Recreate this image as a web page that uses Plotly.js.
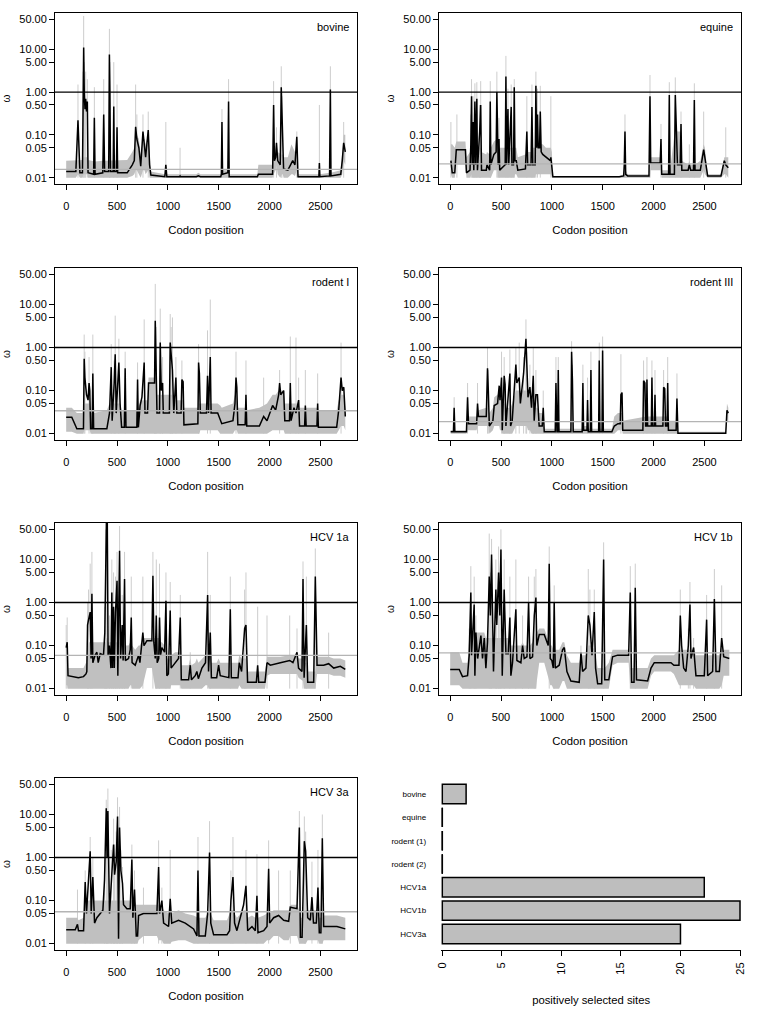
<!DOCTYPE html>
<html>
<head>
<meta charset="utf-8">
<script src="https://cdn.plot.ly/plotly-3.0.1.min.js"></script>
<style>html,body{margin:0;padding:0;background:#fff}#chart{width:768px;height:1019px}</style>
</head>
<body>
<div id="chart"></div>
<script>
// Rows: [codon position, omega, band lower, band upper]
// Spikes: [codon position, upper credible limit] for single-site excursions of the interval
const bovine = [
[0,0.014,0.010,0.025],[95,0.014,0.010,0.026],[116,0.22,0.012,0.026],[135,0.013,0.010,0.026],[160,0.013,0.010,0.026],[166,0.5,0.012,0.03],[172,11,0.012,0.03],[178,0.9,0.012,0.03],[185,0.4,0.012,0.03],[192,0.7,0.012,0.03],[200,0.35,0.012,0.03],[208,0.6,0.012,0.03],[215,0.013,0.010,0.026],[270,0.012,0.010,0.024],[277,0.25,0.010,0.024],[284,0.012,0.010,0.024],[360,0.013,0.010,0.025],[369,0.3,0.010,0.025],[378,0.014,0.010,0.026],[418,0.014,0.010,0.026],[425,7.5,0.010,0.026],[430,1.0,0.010,0.026],[436,0.014,0.010,0.026],[462,0.014,0.010,0.026],[468,0.46,0.010,0.026],[474,0.014,0.010,0.026],[494,0.014,0.010,0.026],[500,0.15,0.010,0.026],[506,0.013,0.010,0.026],[600,0.013,0.010,0.026],[650,0.02,0.011,0.04],[670,0.025,0.012,0.05],[683,0.155,0.015,0.1],[695,0.08,0.015,0.1],[715,0.05,0.012,0.08],[733,0.0185,0.010,0.035],[755,0.12,0.015,0.08],[770,0.05,0.015,0.08],[781,0.03,0.012,0.06],[807,0.13,0.015,0.1],[820,0.02,0.010,0.04],[833,0.0115,0.010,0.014],[970,0.0105,0.010,0.012],[980,0.02,0.010,0.012],[990,0.0105,0.010,0.012],[1115,0.0105,0.010,0.012],[1120,0.011,0.010,0.012],[1125,0.0105,0.010,0.012],[1280,0.0105,0.010,0.012],[1300,0.011,0.010,0.013],[1320,0.0105,0.010,0.012],[1520,0.0105,0.010,0.012],[1526,0.012,0.010,0.015],[1532,0.2,0.010,0.015],[1538,0.012,0.010,0.015],[1590,0.013,0.010,0.015],[1597,0.6,0.010,0.015],[1603,0.0105,0.010,0.012],[1880,0.0105,0.010,0.012],[1890,0.012,0.010,0.02],[2030,0.012,0.010,0.02],[2040,0.5,0.012,0.025],[2048,0.025,0.013,0.04],[2060,0.03,0.015,0.05],[2068,0.065,0.02,0.06],[2080,0.025,0.012,0.04],[2105,0.02,0.010,0.035],[2115,1.3,0.012,0.035],[2122,0.25,0.012,0.035],[2130,0.15,0.012,0.035],[2138,0.016,0.010,0.03],[2180,0.015,0.010,0.03],[2215,0.022,0.012,0.06],[2228,0.025,0.012,0.05],[2250,0.02,0.011,0.04],[2268,0.09,0.015,0.05],[2280,0.0105,0.010,0.012],[2485,0.0105,0.010,0.012],[2490,0.022,0.010,0.012],[2495,0.0105,0.010,0.012],[2590,0.011,0.010,0.013],[2598,1.15,0.010,0.013],[2604,0.011,0.010,0.013],[2700,0.012,0.010,0.015],[2715,0.025,0.012,0.05],[2729,0.065,0.025,0.1],[2745,0.04,0.02,0.1]
];
const bovineSpikes = [[116,1.5],[166,3],[172,60],[178,5],[185,2],[192,3],[208,2],[277,1.3],[369,2],[425,30],[430,5],[468,5],[500,1.5],[683,1.5],[695,0.3],[755,0.3],[807,0.35],[980,0.2],[1120,0.05],[1532,0.4],[1597,2],[2040,1.8],[2068,0.15],[2115,4],[2122,0.8],[2268,0.12],[2490,0.5],[2598,4],[2729,0.2]];

const equine = [
[7,0.025,0.012,0.06],[20,0.013,0.010,0.06],[45,0.013,0.010,0.05],[60,0.045,0.02,0.07],[150,0.045,0.02,0.07],[160,0.013,0.010,0.03],[195,0.015,0.010,0.04],[203,0.06,0.012,0.05],[210,0.8,0.012,0.05],[216,0.02,0.010,0.05],[225,0.2,0.010,0.05],[232,0.015,0.010,0.04],[243,0.6,0.010,0.05],[250,0.02,0.010,0.05],[262,0.7,0.010,0.05],[268,0.015,0.010,0.04],[290,0.12,0.010,0.05],[300,0.5,0.010,0.05],[308,0.015,0.010,0.04],[355,0.015,0.010,0.035],[362,0.02,0.010,0.04],[388,0.015,0.010,0.035],[394,0.6,0.010,0.05],[400,0.02,0.010,0.05],[430,0.035,0.015,0.07],[452,0.04,0.015,0.08],[459,1.0,0.015,0.08],[465,0.08,0.015,0.08],[472,0.02,0.010,0.05],[480,0.08,0.010,0.05],[487,0.015,0.010,0.05],[541,0.02,0.010,0.05],[548,2.3,0.010,0.05],[555,0.02,0.010,0.05],[568,0.4,0.010,0.05],[576,0.02,0.010,0.05],[600,0.45,0.010,0.05],[607,0.02,0.010,0.05],[623,0.02,0.010,0.05],[630,1.3,0.010,0.05],[637,0.025,0.012,0.05],[650,0.025,0.012,0.05],[665,0.015,0.010,0.03],[740,0.016,0.010,0.035],[754,0.12,0.010,0.04],[762,0.02,0.010,0.04],[795,0.02,0.010,0.04],[804,0.45,0.010,0.05],[812,0.02,0.010,0.05],[836,0.02,0.010,0.05],[843,1.4,0.012,0.06],[850,0.05,0.012,0.06],[859,0.3,0.012,0.06],[866,0.05,0.012,0.06],[879,0.05,0.012,0.06],[886,0.35,0.012,0.06],[895,0.04,0.012,0.06],[910,0.035,0.012,0.06],[941,0.03,0.012,0.05],[985,0.025,0.012,0.05],[990,0.03,0.012,0.05],[1000,0.02,0.010,0.04],[1010,0.0105,0.010,0.011],[1663,0.0105,0.010,0.011],[1706,0.011,0.010,0.012],[1712,0.02,0.010,0.015],[1719,0.12,0.010,0.015],[1726,0.012,0.010,0.015],[1745,0.011,0.010,0.012],[1955,0.011,0.010,0.012],[1965,0.8,0.010,0.012],[1972,0.022,0.015,0.03],[2065,0.022,0.015,0.03],[2073,0.08,0.015,0.03],[2080,0.012,0.010,0.015],[2148,0.012,0.010,0.015],[2155,0.85,0.010,0.015],[2162,0.012,0.010,0.015],[2205,0.012,0.010,0.1],[2214,0.85,0.010,0.15],[2222,0.1,0.010,0.15],[2235,0.02,0.010,0.12],[2262,0.02,0.010,0.12],[2270,0.18,0.010,0.12],[2278,0.015,0.010,0.025],[2340,0.015,0.010,0.02],[2352,0.02,0.010,0.025],[2365,0.015,0.010,0.02],[2393,0.015,0.010,0.02],[2401,0.65,0.010,0.02],[2408,0.015,0.010,0.02],[2460,0.015,0.010,0.025],[2493,0.045,0.015,0.06],[2505,0.03,0.012,0.05],[2532,0.011,0.010,0.012],[2663,0.011,0.010,0.012],[2696,0.025,0.012,0.03],[2710,0.02,0.012,0.03],[2735,0.017,0.010,0.03]
];
const equineSpikes = [[7,0.2],[66,0.3],[203,0.3],[210,2],[225,0.8],[243,1.6],[262,1.7],[290,0.5],[300,1.8],[394,1.8],[459,3],[465,0.3],[480,0.25],[548,7],[568,1.2],[600,1.5],[630,2],[754,0.8],[804,1.5],[843,3],[859,1.2],[886,1.4],[990,0.8],[1719,0.3],[1965,2.5],[2073,0.18],[2155,1.7],[2214,2.2],[2270,0.35],[2352,0.06],[2401,1.6],[2493,0.35],[2710,0.15]];

const rodentI = [
[0,0.024,0.011,0.04],[55,0.024,0.011,0.04],[105,0.013,0.010,0.03],[160,0.013,0.010,0.03],[170,0.013,0.010,0.04],[177,0.55,0.012,0.05],[184,0.2,0.012,0.05],[200,0.08,0.012,0.05],[215,0.06,0.012,0.05],[225,0.15,0.012,0.05],[232,0.1,0.012,0.05],[240,0.013,0.010,0.03],[255,0.013,0.010,0.03],[262,0.25,0.010,0.03],[270,0.013,0.010,0.03],[400,0.013,0.010,0.035],[426,0.03,0.010,0.05],[443,0.35,0.010,0.05],[452,0.02,0.010,0.05],[472,0.15,0.010,0.05],[482,0.7,0.010,0.05],[492,0.03,0.010,0.05],[518,0.45,0.010,0.05],[530,0.05,0.010,0.05],[545,0.014,0.010,0.035],[572,0.014,0.010,0.035],[580,0.33,0.010,0.035],[588,0.014,0.010,0.035],[695,0.014,0.010,0.035],[702,0.18,0.010,0.04],[710,0.014,0.010,0.04],[727,0.045,0.010,0.06],[745,0.07,0.010,0.06],[767,0.45,0.010,0.06],[775,0.03,0.010,0.06],[800,0.03,0.010,0.06],[810,0.15,0.010,0.2],[860,0.15,0.010,0.2],[869,0.15,0.010,0.2],[876,4.2,0.010,0.2],[885,0.6,0.010,0.1],[893,0.03,0.010,0.08],[918,0.03,0.010,0.08],[925,1.3,0.010,0.08],[935,0.1,0.010,0.08],[948,0.15,0.010,0.08],[955,0.03,0.010,0.08],[1015,0.03,0.010,0.08],[1023,1.3,0.010,0.08],[1032,0.6,0.010,0.08],[1045,0.3,0.010,0.08],[1058,0.03,0.010,0.06],[1079,0.2,0.010,0.06],[1088,0.03,0.010,0.06],[1130,0.03,0.010,0.06],[1138,0.18,0.010,0.06],[1150,0.16,0.010,0.06],[1158,0.016,0.010,0.04],[1295,0.017,0.010,0.04],[1302,0.45,0.010,0.05],[1310,0.25,0.010,0.05],[1319,0.03,0.012,0.05],[1380,0.03,0.012,0.05],[1390,0.22,0.012,0.05],[1400,0.03,0.012,0.05],[1417,0.6,0.012,0.05],[1425,0.03,0.012,0.05],[1490,0.03,0.012,0.05],[1515,0.02,0.010,0.045],[1530,0.017,0.010,0.04],[1640,0.02,0.010,0.05],[1660,0.05,0.012,0.08],[1670,0.2,0.012,0.08],[1678,0.12,0.012,0.08],[1688,0.016,0.010,0.04],[1760,0.016,0.010,0.04],[1768,0.08,0.010,0.04],[1776,0.015,0.010,0.035],[1900,0.015,0.010,0.04],[1942,0.025,0.010,0.045],[1975,0.02,0.010,0.05],[2030,0.045,0.012,0.08],[2060,0.035,0.012,0.08],[2090,0.08,0.012,0.1],[2099,0.15,0.012,0.1],[2110,0.08,0.012,0.1],[2139,0.1,0.012,0.1],[2150,0.02,0.010,0.05],[2196,0.02,0.010,0.05],[2204,0.15,0.010,0.05],[2212,0.02,0.010,0.05],[2240,0.04,0.010,0.05],[2260,0.03,0.010,0.05],[2286,0.06,0.010,0.05],[2295,0.015,0.010,0.04],[2345,0.015,0.010,0.04],[2352,0.045,0.010,0.04],[2360,0.015,0.010,0.04],[2466,0.015,0.010,0.04],[2473,0.05,0.010,0.04],[2480,0.014,0.010,0.035],[2660,0.014,0.010,0.035],[2680,0.035,0.012,0.06],[2703,0.2,0.015,0.08],[2715,0.1,0.015,0.08],[2730,0.12,0.015,0.08],[2745,0.025,0.012,0.04]
];
const rodentISpikes = [[177,2],[184,0.8],[225,0.6],[262,2],[443,1.2],[472,0.5],[482,5.5],[518,1.6],[580,0.8],[702,0.45],[767,4.5],[869,1],[876,30],[885,3],[925,8],[948,0.6],[1023,6],[1032,3],[1045,5],[1079,0.6],[1138,0.5],[1302,1.2],[1390,2.5],[1417,13],[1670,0.8],[1768,0.5],[1942,0.2],[2099,0.3],[2204,1.8],[2260,1.7],[2286,0.2],[2352,0.3],[2473,0.25],[2703,1.3]];

const rodentIII = [
[5,0.011,0.010,0.012],[32,0.011,0.010,0.012],[39,0.04,0.010,0.012],[46,0.011,0.010,0.012],[160,0.011,0.010,0.012],[171,0.07,0.012,0.025],[180,0.017,0.012,0.025],[260,0.017,0.012,0.025],[269,0.05,0.015,0.035],[278,0.025,0.015,0.035],[355,0.025,0.015,0.04],[367,0.33,0.015,0.04],[375,0.1,0.015,0.04],[385,0.015,0.010,0.03],[420,0.02,0.012,0.04],[433,0.045,0.015,0.07],[466,0.05,0.015,0.08],[482,0.13,0.015,0.1],[490,0.06,0.012,0.08],[505,0.2,0.012,0.06],[512,0.012,0.010,0.05],[531,0.22,0.010,0.05],[540,0.14,0.010,0.05],[548,0.015,0.010,0.04],[587,0.25,0.010,0.04],[594,0.015,0.010,0.04],[610,0.02,0.010,0.05],[646,0.4,0.015,0.1],[655,0.15,0.015,0.1],[679,0.2,0.015,0.1],[690,0.05,0.015,0.1],[722,0.25,0.015,0.1],[745,1.6,0.015,0.1],[752,0.3,0.015,0.1],[765,0.07,0.012,0.08],[784,0.12,0.012,0.08],[800,0.04,0.010,0.06],[817,0.22,0.010,0.06],[826,0.02,0.010,0.04],[843,0.08,0.010,0.04],[858,0.08,0.010,0.04],[875,0.015,0.010,0.03],[905,0.015,0.010,0.03],[915,0.04,0.010,0.02],[925,0.011,0.010,0.013],[1033,0.011,0.010,0.013],[1040,0.15,0.010,0.013],[1050,0.011,0.010,0.013],[1057,0.011,0.010,0.013],[1063,0.3,0.010,0.013],[1070,0.011,0.010,0.013],[1187,0.011,0.010,0.013],[1194,0.8,0.010,0.013],[1202,0.18,0.010,0.013],[1210,0.011,0.010,0.013],[1298,0.011,0.010,0.013],[1305,0.15,0.010,0.013],[1312,0.012,0.010,0.015],[1345,0.012,0.010,0.015],[1351,0.06,0.010,0.015],[1358,0.011,0.010,0.013],[1378,0.011,0.010,0.013],[1384,0.3,0.010,0.013],[1391,0.011,0.010,0.013],[1460,0.011,0.010,0.013],[1466,0.5,0.010,0.013],[1473,0.011,0.010,0.013],[1493,0.011,0.010,0.013],[1499,0.85,0.010,0.013],[1506,0.011,0.010,0.013],[1590,0.011,0.010,0.013],[1614,0.015,0.010,0.025],[1650,0.017,0.012,0.03],[1672,0.017,0.012,0.03],[1679,0.08,0.012,0.03],[1690,0.09,0.012,0.03],[1697,0.012,0.010,0.02],[1895,0.012,0.010,0.025],[1902,0.17,0.010,0.025],[1915,0.15,0.010,0.025],[1922,0.015,0.010,0.025],[1930,0.015,0.010,0.025],[1935,0.18,0.010,0.025],[1942,0.015,0.010,0.025],[1978,0.015,0.010,0.025],[1984,0.2,0.010,0.025],[1991,0.015,0.010,0.025],[2008,0.015,0.010,0.025],[2014,0.08,0.010,0.025],[2020,0.015,0.010,0.025],[2092,0.015,0.010,0.025],[2099,0.12,0.010,0.025],[2110,0.11,0.010,0.025],[2118,0.015,0.010,0.025],[2133,0.015,0.010,0.025],[2139,0.15,0.010,0.025],[2146,0.012,0.010,0.02],[2222,0.012,0.010,0.02],[2230,0.065,0.010,0.02],[2240,0.0102,0.010,0.011],[2710,0.0102,0.010,0.011],[2722,0.035,0.02,0.05],[2735,0.03,0.02,0.04]
];
const rodentIIISpikes = [[39,0.07],[171,0.15],[269,0.15],[367,1],[375,0.3],[505,0.8],[531,0.6],[587,0.9],[646,1],[679,1.3],[722,0.6],[745,4.5],[752,0.8],[784,0.4],[817,1],[843,0.3],[915,0.1],[1040,0.6],[1063,0.6],[1194,1.4],[1202,0.4],[1305,0.4],[1351,0.2],[1384,0.8],[1466,1.3],[1499,1.8],[1679,0.7],[1902,0.5],[1935,0.6],[1984,0.5],[2014,0.3],[2099,0.3],[2139,0.6],[2230,0.25]];

const hcv1a = [
[0,0.09,0.012,0.12],[10,0.12,0.012,0.12],[18,0.02,0.010,0.03],[60,0.019,0.010,0.03],[120,0.018,0.010,0.03],[170,0.019,0.010,0.03],[195,0.022,0.010,0.04],[203,0.025,0.010,0.06],[210,0.3,0.010,0.1],[220,0.4,0.010,0.12],[236,0.6,0.010,0.12],[245,0.05,0.010,0.12],[253,1.6,0.010,0.12],[262,0.04,0.010,0.12],[285,0.06,0.010,0.12],[302,0.07,0.010,0.12],[315,0.04,0.010,0.12],[335,0.065,0.010,0.12],[367,0.06,0.010,0.12],[380,0.2,0.010,0.12],[390,8,0.010,0.12],[396,90,0.010,0.15],[404,90,0.010,0.15],[412,0.06,0.010,0.12],[425,0.1,0.010,0.12],[440,0.03,0.010,0.12],[449,1.7,0.010,0.12],[456,0.03,0.010,0.12],[466,0.8,0.010,0.12],[473,0.03,0.010,0.12],[485,0.6,0.010,0.12],[500,3.2,0.010,0.12],[508,0.02,0.010,0.12],[525,16,0.010,0.12],[535,0.05,0.010,0.12],[551,0.3,0.010,0.12],[560,0.045,0.010,0.12],[574,3.5,0.010,0.12],[582,0.045,0.010,0.1],[613,0.05,0.010,0.1],[630,0.08,0.012,0.12],[640,0.45,0.012,0.12],[648,0.04,0.010,0.1],[679,0.035,0.010,0.08],[712,0.06,0.010,0.1],[725,0.04,0.010,0.1],[754,0.2,0.012,0.15],[765,0.1,0.015,0.15],[794,0.13,0.03,0.15],[843,0.13,0.03,0.15],[853,4.2,0.02,0.15],[862,0.12,0.015,0.15],[876,0.05,0.010,0.15],[886,0.5,0.010,0.15],[895,0.04,0.010,0.15],[910,0.05,0.010,0.15],[918,0.45,0.010,0.15],[928,0.06,0.010,0.12],[941,0.09,0.010,0.12],[968,0.07,0.010,0.1],[981,1.1,0.010,0.08],[990,0.02,0.010,0.05],[1005,0.022,0.010,0.05],[1023,0.65,0.010,0.05],[1032,0.03,0.012,0.06],[1072,0.04,0.012,0.07],[1105,0.05,0.012,0.07],[1122,0.45,0.012,0.07],[1132,0.016,0.010,0.035],[1204,0.016,0.010,0.035],[1220,0.035,0.010,0.05],[1232,0.016,0.010,0.035],[1269,0.02,0.010,0.04],[1285,0.025,0.010,0.05],[1300,0.017,0.010,0.04],[1335,0.03,0.010,0.05],[1370,0.04,0.012,0.06],[1391,1.5,0.012,0.06],[1400,0.025,0.010,0.05],[1417,0.2,0.010,0.05],[1428,0.018,0.010,0.04],[1480,0.018,0.010,0.04],[1499,0.035,0.010,0.05],[1515,0.02,0.010,0.04],[1600,0.018,0.010,0.04],[1614,0.7,0.010,0.04],[1624,0.018,0.010,0.04],[1690,0.018,0.010,0.04],[1702,0.04,0.012,0.06],[1725,0.025,0.010,0.05],[1755,0.25,0.010,0.05],[1768,0.3,0.010,0.05],[1784,0.014,0.010,0.025],[1870,0.014,0.010,0.025],[1883,0.035,0.010,0.025],[1893,0.014,0.010,0.025],[1955,0.014,0.010,0.025],[1975,0.04,0.02,0.055],[2007,0.035,0.022,0.055],[2106,0.04,0.022,0.055],[2198,0.045,0.022,0.06],[2230,0.04,0.022,0.06],[2270,0.07,0.022,0.06],[2285,0.03,0.018,0.05],[2319,0.025,0.015,0.05],[2329,3.5,0.015,0.05],[2340,0.018,0.010,0.04],[2362,0.3,0.010,0.04],[2375,0.014,0.010,0.025],[2434,0.014,0.010,0.025],[2450,4,0.010,0.025],[2467,0.035,0.022,0.055],[2532,0.035,0.022,0.055],[2581,0.038,0.022,0.055],[2631,0.03,0.02,0.05],[2696,0.033,0.02,0.05],[2745,0.028,0.018,0.045]
];
const hcv1aSpikes = [[0,0.3],[10,0.45],[210,1],[220,2],[236,8],[253,15],[380,0.8],[390,50],[400,100],[425,0.5],[449,10],[466,5],[485,4],[500,15],[525,60],[551,1.5],[574,15],[640,4],[754,4],[853,15],[886,10],[918,8],[981,5],[1023,3],[1122,1.5],[1220,0.07],[1391,15],[1417,1.5],[1614,4],[1755,2],[1768,5],[1883,0.8],[1975,0.5],[2198,0.5],[2270,0.25],[2329,9],[2362,4],[2450,18],[2581,0.2]];

const hcv1b = [
[0,0.028,0.012,0.07],[89,0.028,0.012,0.07],[121,0.019,0.010,0.04],[171,0.02,0.010,0.04],[187,0.06,0.010,0.15],[203,1.7,0.010,0.2],[210,0.06,0.010,0.2],[236,0.9,0.010,0.2],[243,0.02,0.010,0.2],[253,0.2,0.010,0.2],[270,0.05,0.010,0.2],[302,0.17,0.010,0.2],[318,0.05,0.010,0.2],[335,0.15,0.010,0.2],[351,0.03,0.010,0.15],[367,0.12,0.010,0.15],[384,4,0.010,0.15],[395,0.5,0.010,0.15],[407,13,0.010,0.15],[426,0.025,0.010,0.15],[449,2,0.010,0.15],[458,0.3,0.010,0.15],[476,5,0.010,0.15],[488,0.5,0.010,0.15],[499,17,0.010,0.15],[512,0.02,0.010,0.15],[531,2,0.010,0.15],[548,0.065,0.010,0.15],[571,0.065,0.010,0.15],[587,0.45,0.010,0.15],[597,0.02,0.010,0.1],[613,0.04,0.010,0.1],[646,0.7,0.010,0.1],[656,0.045,0.010,0.1],[695,0.04,0.010,0.1],[712,0.1,0.010,0.12],[728,0.05,0.010,0.1],[755,0.055,0.010,0.1],[771,1.0,0.010,0.1],[784,0.05,0.010,0.1],[810,0.055,0.010,0.12],[827,0.5,0.010,0.15],[843,1.3,0.010,0.2],[852,0.1,0.015,0.2],[876,0.18,0.04,0.25],[925,0.18,0.04,0.25],[964,0.1,0.02,0.15],[974,8,0.015,0.12],[984,0.05,0.012,0.1],[1000,0.045,0.012,0.1],[1014,0.03,0.010,0.08],[1023,1.0,0.010,0.08],[1033,0.03,0.010,0.08],[1072,0.035,0.010,0.08],[1105,0.08,0.015,0.12],[1122,0.09,0.015,0.12],[1148,0.025,0.010,0.06],[1187,0.015,0.010,0.04],[1269,0.014,0.010,0.04],[1286,0.07,0.010,0.06],[1302,0.025,0.010,0.06],[1335,0.03,0.010,0.06],[1358,0.5,0.010,0.1],[1374,0.3,0.010,0.1],[1395,0.06,0.010,0.1],[1417,0.6,0.010,0.08],[1430,0.03,0.010,0.06],[1450,0.013,0.010,0.03],[1490,0.013,0.010,0.03],[1509,10,0.010,0.03],[1520,0.016,0.010,0.03],[1560,0.016,0.010,0.04],[1597,0.055,0.035,0.08],[1647,0.06,0.04,0.08],[1755,0.06,0.04,0.08],[1771,1.7,0.010,0.03],[1784,0.014,0.010,0.03],[1808,0.014,0.010,0.03],[1820,2.2,0.010,0.03],[1832,0.016,0.010,0.03],[1942,0.015,0.010,0.03],[1975,0.03,0.02,0.05],[2007,0.04,0.025,0.06],[2171,0.04,0.025,0.06],[2200,0.035,0.022,0.06],[2250,0.035,0.012,0.08],[2263,0.5,0.012,0.08],[2276,0.1,0.012,0.08],[2296,0.03,0.012,0.08],[2319,0.025,0.012,0.08],[2342,0.1,0.012,0.08],[2358,0.9,0.012,0.08],[2368,0.05,0.012,0.08],[2394,0.09,0.012,0.08],[2417,0.02,0.010,0.06],[2499,0.02,0.010,0.06],[2522,0.4,0.010,0.06],[2532,0.02,0.010,0.06],[2581,0.025,0.010,0.06],[2598,1.2,0.010,0.06],[2614,0.025,0.010,0.06],[2647,0.025,0.010,0.06],[2670,0.15,0.012,0.08],[2690,0.055,0.02,0.08],[2745,0.05,0.02,0.08]
];
const hcv1bSpikes = [[187,0.25],[203,7],[236,4],[253,0.5],[384,40],[395,5],[407,30],[449,10],[458,2],[476,20],[488,5],[499,50],[531,10],[587,4],[646,10],[712,0.5],[771,4],[827,4],[843,6],[974,20],[1023,2.5],[1286,0.1],[1358,6],[1374,2],[1417,2],[1509,25],[1771,7],[1820,8],[2263,2],[2342,0.25],[2358,3],[2394,0.15],[2522,1.5],[2598,6],[2670,2.5]];

const hcv3a = [
[0,0.021,0.010,0.04],[89,0.021,0.010,0.04],[111,0.028,0.010,0.04],[121,0.02,0.010,0.035],[171,0.02,0.010,0.04],[187,0.27,0.010,0.08],[200,0.05,0.010,0.1],[236,1.4,0.010,0.1],[246,0.05,0.010,0.1],[262,0.35,0.010,0.1],[279,0.03,0.010,0.1],[302,0.04,0.010,0.1],[335,0.05,0.010,0.1],[361,0.06,0.010,0.1],[377,0.3,0.010,0.1],[394,14,0.010,0.1],[402,1,0.010,0.1],[410,12,0.010,0.1],[426,0.05,0.010,0.1],[443,0.3,0.010,0.1],[466,2,0.010,0.1],[476,0.4,0.010,0.1],[492,0.8,0.010,0.1],[505,9,0.010,0.1],[515,0.013,0.010,0.1],[525,5,0.010,0.1],[538,0.5,0.010,0.1],[554,0.25,0.010,0.1],[564,0.08,0.010,0.1],[597,0.065,0.010,0.1],[630,0.065,0.010,0.1],[646,0.9,0.010,0.1],[656,0.04,0.010,0.1],[672,0.18,0.010,0.1],[689,0.015,0.010,0.08],[702,0.015,0.010,0.08],[712,0.045,0.012,0.08],[760,0.05,0.015,0.08],[892,0.05,0.015,0.08],[909,0.6,0.012,0.08],[918,0.05,0.012,0.08],[941,0.1,0.012,0.08],[958,0.03,0.010,0.06],[1007,0.025,0.010,0.05],[1023,0.11,0.010,0.05],[1038,0.03,0.011,0.05],[1105,0.035,0.012,0.06],[1171,0.03,0.012,0.05],[1253,0.022,0.010,0.045],[1286,0.015,0.010,0.04],[1296,0.5,0.010,0.04],[1306,0.015,0.010,0.04],[1368,0.015,0.010,0.04],[1391,0.05,0.010,0.05],[1410,1.3,0.010,0.05],[1422,0.03,0.010,0.05],[1450,0.016,0.010,0.035],[1581,0.016,0.010,0.035],[1607,0.02,0.010,0.05],[1620,0.1,0.010,0.06],[1640,0.35,0.010,0.06],[1656,0.03,0.010,0.05],[1679,0.02,0.010,0.04],[1745,0.08,0.010,0.06],[1768,0.22,0.010,0.06],[1785,0.02,0.010,0.04],[1827,0.025,0.010,0.045],[1860,0.02,0.010,0.04],[1876,0.13,0.010,0.04],[1886,0.018,0.010,0.04],[1942,0.02,0.010,0.045],[1975,0.025,0.012,0.05],[1991,0.55,0.012,0.05],[2001,0.03,0.012,0.05],[2040,0.04,0.015,0.06],[2089,0.045,0.015,0.06],[2139,0.035,0.012,0.06],[2188,0.033,0.012,0.06],[2204,0.07,0.015,0.08],[2270,0.065,0.015,0.08],[2293,5,0.010,0.06],[2303,0.014,0.010,0.04],[2320,0.014,0.010,0.04],[2342,2.4,0.010,0.06],[2355,1.4,0.010,0.06],[2375,0.04,0.012,0.06],[2401,0.035,0.012,0.06],[2417,0.12,0.012,0.06],[2432,0.03,0.012,0.06],[2460,0.03,0.012,0.06],[2476,0.2,0.012,0.06],[2489,0.018,0.010,0.04],[2505,0.018,0.010,0.04],[2519,2.8,0.010,0.04],[2532,0.025,0.012,0.045],[2663,0.025,0.012,0.045],[2745,0.022,0.012,0.04]
];
const hcv3aSpikes = [[111,0.18],[187,0.5],[236,3],[262,1],[377,1],[394,22],[402,5],[410,40],[443,1.5],[466,8],[476,2],[492,4],[505,25],[525,15],[538,1.5],[554,0.6],[646,2],[672,0.5],[760,0.2],[909,2.5],[941,0.2],[1023,1.5],[1296,3],[1410,7],[1620,0.5],[1640,3],[1768,1.5],[1876,1.2],[1991,2.5],[2089,0.5],[2204,0.5],[2293,12],[2342,9],[2355,4],[2417,0.8],[2476,1.5],[2519,10]];

const panelNames = ['bovine','equine','rodent I','rodent III','HCV 1a','HCV 1b','HCV 3a'];
const panelData = [bovine, equine, rodentI, rodentIII, hcv1a, hcv1b, hcv3a];
const panelSpikes = [bovineSpikes, equineSpikes, rodentISpikes, rodentIIISpikes, hcv1aSpikes, hcv1bSpikes, hcv3aSpikes];
const meanOmega = [0.0156, 0.021, 0.034, 0.019, 0.059, 0.068, 0.055];
const neutralOmega = 1;

const xTickVals = [0, 500, 1000, 1500, 2000, 2500];
const yTickVals = [0.01, 0.05, 0.1, 0.5, 1, 5, 10, 50];
const yTickText = ['0.01', '0.05', '0.10', '0.50', '1.00', '5.00', '10.00', '50.00'];

const barCategories = ['bovine','equine','rodent (1)','rodent (2)','HCV1a','HCV1b','HCV3a'];
const barValues = [2, 0, 0, 0, 22, 25, 20];
const barTickVals = [0, 5, 10, 15, 20, 25];

// ---------- layout geometry (pixels) ----------
const W = 768, H = 1019;
const colX = [[55, 357], [439, 741]];
const rowY = [[13, 184], [268, 440], [523, 695], [778, 950]];
const xRange = [-110, 2860];
const yRange = [-2.148, 1.847];
const FONT = 'Liberation Sans, Arial, Helvetica, sans-serif';
const TICK = 11;

const traces = [];
const layout = {
  width: W, height: H,
  margin: {l: 0, r: 0, t: 0, b: 0},
  showlegend: false,
  paper_bgcolor: '#ffffff',
  plot_bgcolor: '#ffffff',
  font: {family: FONT, color: '#000000', size: 10},
  hovermode: false,
  annotations: []
};

panelData.forEach((rows, i) => {
  const k = i + 1;
  const sx = k === 1 ? '' : String(k);
  const xa = 'x' + sx, ya = 'y' + sx;
  const col = i % 2, row = Math.floor(i / 2);
  const pos = rows.map(r => r[0]);
  const omega = rows.map(r => r[1]);
  const low = rows.map(r => r[2]);
  const high = rows.map(r => r[3]);
  const floor = Math.min.apply(null, low);

  layout['xaxis' + sx] = {
    domain: [colX[col][0] / W, colX[col][1] / W],
    range: xRange, anchor: ya,
    tickmode: 'array', tickvals: xTickVals, ticktext: xTickVals.map(String),
    ticks: 'outside', ticklen: 5, tickwidth: 1, tickcolor: '#000',
    ticklabelstandoff: 7,
    showline: true, mirror: true, linewidth: 1, linecolor: '#000',
    showgrid: false, zeroline: false,
    tickfont: {size: TICK},
    title: {text: 'Codon position', font: {size: 11.3}, standoff: 14}
  };
  layout['yaxis' + sx] = {
    domain: [1 - rowY[row][1] / H, 1 - rowY[row][0] / H],
    type: 'log', range: yRange, anchor: xa,
    tickmode: 'array', tickvals: yTickVals, ticktext: yTickText,
    ticks: 'outside', ticklen: 5, tickwidth: 1, tickcolor: '#000',
    showline: true, mirror: true, linewidth: 1, linecolor: '#000',
    showgrid: false, zeroline: false,
    tickfont: {size: TICK},
    title: {text: 'ω', font: {size: 10}, standoff: 6}
  };

  // thin single-site excursions of the credible interval
  const sxs = [], sys = [];
  panelSpikes[i].forEach(s => { sxs.push(s[0], s[0], null); sys.push(floor, s[1], null); });
  traces.push({type: 'scatter', mode: 'lines', x: sxs, y: sys, xaxis: xa, yaxis: ya,
    line: {width: 1, color: '#cdcdcd'}, hoverinfo: 'skip'});
  // credible band
  traces.push({type: 'scatter', mode: 'lines', x: pos, y: low, xaxis: xa, yaxis: ya,
    line: {width: 0, color: 'rgba(0,0,0,0)'}, hoverinfo: 'skip'});
  traces.push({type: 'scatter', mode: 'lines', x: pos, y: high, xaxis: xa, yaxis: ya,
    fill: 'tonexty', fillcolor: '#c0c0c0', line: {width: 0, color: 'rgba(0,0,0,0)'}, hoverinfo: 'skip'});
  // posterior omega
  traces.push({type: 'scatter', mode: 'lines', x: pos, y: omega, xaxis: xa, yaxis: ya,
    line: {width: 1.5, color: '#000000'}});
  traces.push({type: 'scatter', mode: 'lines', x: xRange, y: [neutralOmega, neutralOmega], xaxis: xa, yaxis: ya,
    line: {width: 1.3, color: '#000000'}});
  traces.push({type: 'scatter', mode: 'lines', x: xRange, y: [meanOmega[i], meanOmega[i]], xaxis: xa, yaxis: ya,
    line: {width: 1.3, color: '#b4b4b4'}});

  layout.annotations.push({
    xref: xa + ' domain', yref: ya + ' domain',
    x: 0.979, y: 0.92, xanchor: 'right', yanchor: 'middle',
    text: panelNames[i], showarrow: false, font: {size: 11, family: FONT}
  });
});

// ---------- bar panel ----------
const nb = barCategories.length;
const barY = barCategories.map((c, j) => nb - 1 - j);
const barWidth = 0.833;
layout.xaxis8 = {
  domain: [441.1 / W, 741.2 / W], range: [-0.1, 25.1], anchor: 'y8',
  tickmode: 'array', tickvals: barTickVals, ticktext: barTickVals.map(String), tickangle: -90,
  ticks: 'outside', ticklen: 5, tickwidth: 1, tickcolor: '#000',
  ticklabelstandoff: 2,
  showline: true, linewidth: 1, linecolor: '#000', showgrid: false, zeroline: false,
  tickfont: {size: TICK},
  title: {text: 'positively selected sites', font: {size: 11.3}, standoff: 22}
};
layout.yaxis8 = {
  domain: [1 - 950 / H, 1 - 778 / H], range: [-0.69, 6.69], anchor: 'x8',
  tickmode: 'array', tickvals: barY, ticktext: barCategories,
  ticks: '', showline: false, showgrid: false, zeroline: false,
  tickfont: {size: 8}, ticklabelstandoff: 14
};
traces.push({type: 'bar', orientation: 'h', x: barValues, y: barY, xaxis: 'x8', yaxis: 'y8',
  width: barWidth, marker: {color: '#bebebe', line: {color: '#000000', width: 1.5}}});
// zero-length bars: R still draws their border, which collapses to a vertical line
const zx = [], zy = [];
barValues.forEach((v, j) => {
  if (v === 0) { zx.push(v, v, null); zy.push(barY[j] - barWidth / 2, barY[j] + barWidth / 2, null); }
});
traces.push({type: 'scatter', mode: 'lines', x: zx, y: zy, xaxis: 'x8', yaxis: 'y8',
  line: {color: '#000000', width: 1.5}});

Plotly.newPlot('chart', traces, layout, {staticPlot: true, displayModeBar: false});
</script>
</body>
</html>
